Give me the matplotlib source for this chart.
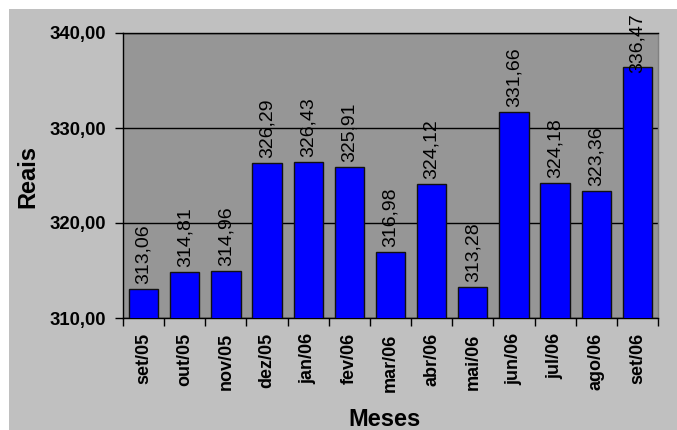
import matplotlib
matplotlib.use("Agg")
import matplotlib.pyplot as plt
from matplotlib.patches import Rectangle

plt.rcParams['font.family'] = ['Liberation Sans', 'DejaVu Sans']

meses = ["set/05", "out/05", "nov/05", "dez/05", "jan/06", "fev/06", "mar/06",
         "abr/06", "mai/06", "jun/06", "jul/06", "ago/06", "set/06"]
valores = [313.06, 314.81, 314.96, 326.29, 326.43, 325.91, 316.98,
           324.12, 313.28, 331.66, 324.18, 323.36, 336.47]
y_ticks = [310, 320, 330, 340]

W, H = 677, 430
fig = plt.figure(figsize=(W / 100, H / 100), dpi=100, facecolor="white")

# chart area background
fig.patches.append(Rectangle((9 / W, 0), 1 - 9 / W, 1 - 9 / H, transform=fig.transFigure,
                             facecolor="#c0c0c0", edgecolor="none", zorder=-10))

ax = fig.add_axes([123 / W, (H - 318) / H, 535 / W, 285 / H])
ax.set_zorder(1)
ax.set_facecolor("#969696")

x = list(range(len(meses)))
ax.bar(x, valores, width=0.714, color="#0000ff", edgecolor="#111111", linewidth=1.0, zorder=3)

ax.set_xlim(-0.5, len(meses) - 0.5)
ax.set_ylim(310, 340)
ax.set_yticks(y_ticks)
ax.set_yticklabels([f"{t:.2f}".replace(".", ",") for t in y_ticks],
                   fontsize=13.3, fontweight="bold")
ax.yaxis.grid(True, color="black", linewidth=1.0, zorder=1)
ax.set_axisbelow(True)

# category labels centred, tick marks at category boundaries
ax.set_xticks(x)
ax.set_xticklabels(meses, rotation=90, fontsize=13, fontweight="bold")
ax.tick_params(axis="x", length=0, pad=11)
ax.set_xticks([i - 0.5 for i in range(len(meses) + 1)], minor=True)
ax.tick_params(axis="x", which="minor", length=6, width=1, direction="out")
ax.tick_params(axis="y", length=6, width=1, direction="out", pad=6)

for side in ("left", "bottom", "top"):
    ax.spines[side].set_color("black")
    ax.spines[side].set_linewidth(1.0)
ax.spines["right"].set_color("#808080")
ax.spines["right"].set_linewidth(1.0)

labels = []
for i, v in enumerate(valores):
    a = ax.annotate(f"{v:.2f}".replace(".", ","), xy=(i, v), xytext=(0, 5),
                    textcoords="offset pixels", ha="center", va="bottom",
                    rotation=90, fontsize=14, annotation_clip=False, zorder=4)
    labels.append(a)

fig.text(28 / W, 1 - 176 / H, "Reais", rotation=90, ha="center", va="center",
         fontsize=17, fontweight="bold")
fig.text(385 / W, 1 - 419 / H, "Meses", ha="center", va="center",
         fontsize=17, fontweight="bold")

# keep value labels inside the chart area
fig.canvas.draw()
renderer = fig.canvas.get_renderer()
limit = H - 13
for a in labels:
    bb = a.get_window_extent(renderer)
    if bb.y1 > limit:
        dx, dy = a.xyann
        a.xyann = (dx, dy - (bb.y1 - limit))

fig.savefig("out.png", dpi=100, facecolor=fig.get_facecolor())
